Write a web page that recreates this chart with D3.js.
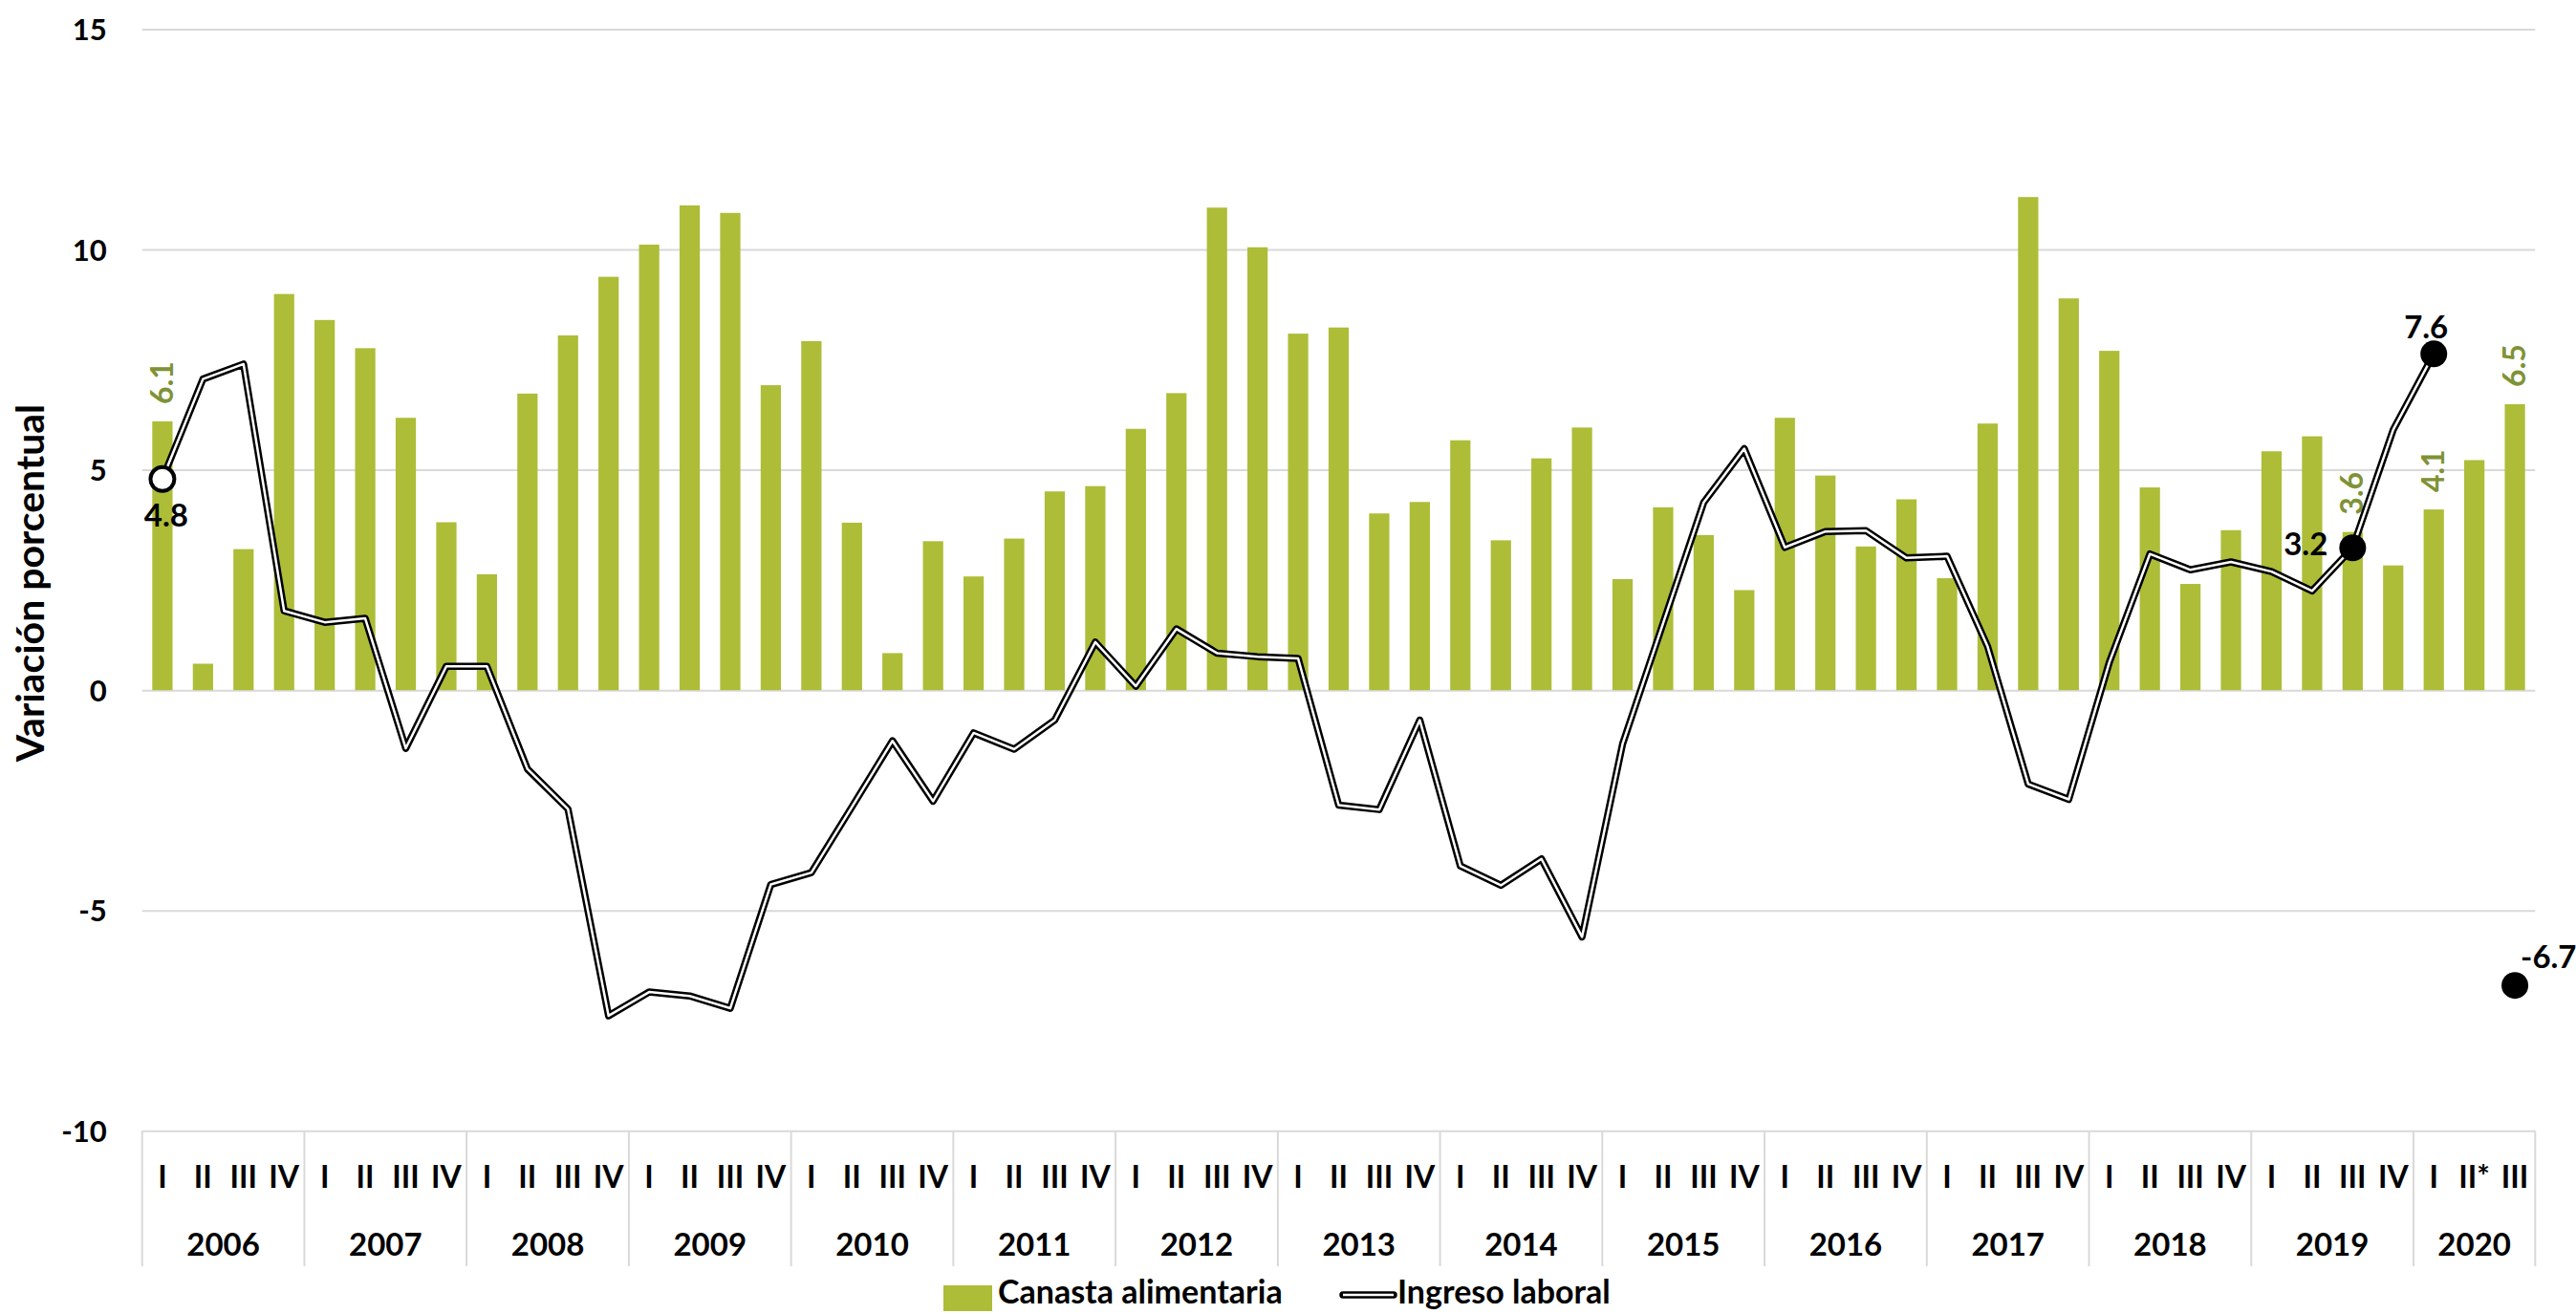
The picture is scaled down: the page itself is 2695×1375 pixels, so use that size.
<!DOCTYPE html>
<html>
<head>
<meta charset="utf-8">
<script src="https://cdn.jsdelivr.net/npm/d3@7"></script>
<style>
html, body { margin: 0; padding: 0; background: #ffffff; }
svg { display: block; font-family: Lato, "Open Sans", sans-serif; }
</style>
</head>
<body>
<svg id="chart" width="2695" height="1375"></svg>
<script>
// ---------- DATA ----------
const years = ["2006","2007","2008","2009","2010","2011","2012","2013","2014","2015","2016","2017","2018","2019","2020"];
const quarterNames = ["I","II","III","IV"];
const lastYearQuarters = ["I","II*","III"];
const yTicks = [-10, -5, 0, 5, 10, 15];

// Canasta alimentaria (bars), one value per quarter 2006-I .. 2020-III
const canasta = [
  6.10, 0.60, 3.20, 8.99,
  8.40, 7.76, 6.18, 3.81,
  2.63, 6.73, 8.05, 9.38,
  10.11, 11.00, 10.83, 6.92,
  7.92, 3.80, 0.84, 3.38,
  2.58, 3.44, 4.51, 4.63,
  5.93, 6.74, 10.95, 10.05,
  8.09, 8.23, 4.01, 4.27,
  5.67, 3.40, 5.26, 5.96,
  2.52, 4.15, 3.52, 2.27,
  6.18, 4.87, 3.26, 4.33,
  2.54, 6.05, 11.19, 8.89,
  7.70, 4.60, 2.41, 3.63,
  5.42, 5.76, 3.59, 2.83,
  4.10, 5.22, 6.49
];

// Ingreso laboral (line)
const ingreso = [
  4.79, 7.06, 7.40, 1.80,
  1.54, 1.63, -1.32, 0.54,
  0.54, -1.79, -2.70, -7.39,
  -6.85, -6.94, -7.22, -4.41,
  -4.14, -2.65, -1.15, -2.52,
  -0.97, -1.34, -0.68, 1.09,
  0.09, 1.39, 0.84, 0.76,
  0.72, -2.61, -2.71, -0.68,
  -3.99, -4.43, -3.83, -5.60,
  -1.22, 1.52, 4.26, 5.48,
  3.24, 3.60, 3.62, 3.00,
  3.04, 0.99, -2.13, -2.48,
  0.63, 3.09, 2.73, 2.91,
  2.69, 2.25, 3.23, 5.91,
  7.63, null, -6.70
];

const labeledBars = [0, 54, 56, 58];
const markedPoints = [0, 54, 56, 58];

const seriesNames = ["Canasta alimentaria", "Ingreso laboral"];
const yTitle = "Variación porcentual";

// ---------- BUILD ----------
const categories = [];
years.forEach(yr => {
  const qs = yr === years[years.length - 1] ? lastYearQuarters : quarterNames;
  qs.forEach(q => categories.push({ year: yr, q: q }));
});

const W = 2695, H = 1375;
const plotL = 148.7, plotR = 2652.3, plotT = 30.5, plotB = 1183.3;
const FONT = "Lato, 'Open Sans', sans-serif";
const barColor = "#adbd38";
const barLabelColor = "#7f9236";
const gridColor = "#d9d9d9";

const svg = d3.select("#chart");
svg.append("rect").attr("width", W).attr("height", H).attr("fill", "#fff");

const x = d3.scaleBand()
  .domain(d3.range(categories.length))
  .range([plotL, plotR])
  .paddingInner(0.5)
  .paddingOuter(0.25);
const bw = x.bandwidth();
const step = x.step();
const cx = i => x(i) + bw / 2;

const y = d3.scaleLinear().domain([-10, 15]).range([plotB, plotT]);

// Y axis with gridlines
svg.append("g")
  .attr("transform", `translate(${plotL},0)`)
  .call(d3.axisLeft(y).tickValues(yTicks).tickSize(-(plotR - plotL)).tickPadding(37).tickFormat(d => String(d)))
  .call(g => g.select(".domain").remove())
  .call(g => g.selectAll(".tick line").attr("stroke", gridColor).attr("stroke-width", 2))
  .call(g => g.selectAll(".tick text")
    .attr("font-family", FONT).attr("font-size", 31).attr("font-weight", "bold")
    .attr("fill", "#000").attr("dy", "0.36em"));

// Bars
svg.append("g").selectAll("rect")
  .data(canasta)
  .join("rect")
  .attr("x", (d, i) => x(i))
  .attr("width", bw)
  .attr("y", d => y(Math.max(0, d)))
  .attr("height", d => Math.abs(y(d) - y(0)))
  .attr("fill", barColor);

// Bar labels (rotated)
svg.append("g").selectAll("text")
  .data(labeledBars)
  .join("text")
  .attr("transform", i => `translate(${cx(i) + 11},${y(canasta[i]) - 18}) rotate(-90)`)
  .attr("text-anchor", "start")
  .attr("font-family", FONT)
  .attr("font-size", 32)
  .attr("font-weight", "bold")
  .attr("fill", barLabelColor)
  .text(i => d3.format(".1f")(canasta[i]));

// Line (double: black outer, white inner)
const line = d3.line()
  .defined(d => d != null)
  .x((d, i) => cx(i))
  .y(d => y(d));

svg.append("path")
  .datum(ingreso)
  .attr("d", line)
  .attr("fill", "none")
  .attr("stroke", "#000")
  .attr("stroke-width", 7.5)
  .attr("stroke-linejoin", "round");
svg.append("path")
  .datum(ingreso)
  .attr("d", line)
  .attr("fill", "none")
  .attr("stroke", "#fff")
  .attr("stroke-width", 2.5)
  .attr("stroke-linejoin", "round");

// Markers
svg.append("g").selectAll("circle")
  .data(markedPoints)
  .join("circle")
  .attr("cx", i => cx(i))
  .attr("cy", i => y(ingreso[i]))
  .attr("r", i => i === 0 ? 12.5 : 14)
  .attr("fill", i => i === 0 ? "#fff" : "#000")
  .attr("stroke", "#000")
  .attr("stroke-width", i => i === 0 ? 4 : 0);

// Line point labels
const labelPlacement = {
  0:  { dx: 4,  dy: 50,  anchor: "middle" },
  54: { dx: -26, dy: 8,  anchor: "end" },
  56: { dx: -8, dy: -16, anchor: "middle" },
  58: { dx: 6,  dy: -18, anchor: "start" }
};
svg.append("g").selectAll("text")
  .data(markedPoints)
  .join("text")
  .attr("x", i => cx(i) + labelPlacement[i].dx)
  .attr("y", i => y(ingreso[i]) + labelPlacement[i].dy)
  .attr("text-anchor", i => labelPlacement[i].anchor)
  .attr("font-family", FONT)
  .attr("font-size", 33)
  .attr("font-weight", "bold")
  .attr("fill", "#000")
  .text(i => d3.format(".1f")(ingreso[i]).replace("\u2212", "-"));

// X axis: quarter labels
svg.append("g")
  .attr("transform", `translate(0,${plotB})`)
  .call(d3.axisBottom(x).tickSize(0).tickFormat(i => categories[i].q))
  .call(g => g.select(".domain").remove())
  .call(g => g.selectAll(".tick text")
    .attr("font-family", FONT).attr("font-size", 32).attr("font-weight", "bold")
    .attr("fill", "#000").attr("y", 60).attr("dy", 0));

// Year groups
const yearInfo = years.map(yr => {
  const idx = categories.map((c, i) => c.year === yr ? i : -1).filter(i => i >= 0);
  const x0 = x(idx[0]) - step * x.paddingOuter();
  const x1 = x(idx[idx.length - 1]) + bw + step * x.paddingOuter();
  return { yr, x0, x1 };
});
const sepG = svg.append("g");
const seps = yearInfo.map(d => d.x0).concat([yearInfo[yearInfo.length - 1].x1]);
sepG.selectAll("line")
  .data(seps)
  .join("line")
  .attr("x1", d => d).attr("x2", d => d)
  .attr("y1", plotB).attr("y2", 1325)
  .attr("stroke", gridColor).attr("stroke-width", 2);

svg.append("g").selectAll("text")
  .data(yearInfo)
  .join("text")
  .attr("x", d => (d.x0 + d.x1) / 2)
  .attr("y", 1314)
  .attr("text-anchor", "middle")
  .attr("font-family", FONT)
  .attr("font-size", 33)
  .attr("font-weight", "bold")
  .attr("fill", "#000")
  .text(d => d.yr);

// Y axis title
svg.append("text")
  .attr("transform", `translate(46,610) rotate(-90)`)
  .attr("text-anchor", "middle")
  .attr("font-family", FONT)
  .attr("font-size", 41)
  .attr("font-weight", "bold")
  .attr("fill", "#000")
  .text(yTitle);

// Legend
const lg = svg.append("g");
lg.append("rect").attr("x", 987).attr("y", 1345).attr("width", 51).attr("height", 27).attr("fill", barColor);
lg.append("text").attr("x", 1044).attr("y", 1364)
  .attr("font-family", FONT).attr("font-size", 34).attr("font-weight", "bold").attr("fill", "#000")
  .text(seriesNames[0]);
lg.append("line").attr("x1", 1405).attr("x2", 1458).attr("y1", 1355).attr("y2", 1355)
  .attr("stroke", "#000").attr("stroke-width", 7.5).attr("stroke-linecap", "round");
lg.append("line").attr("x1", 1405).attr("x2", 1458).attr("y1", 1355).attr("y2", 1355)
  .attr("stroke", "#fff").attr("stroke-width", 2.5);
lg.append("text").attr("x", 1462).attr("y", 1364)
  .attr("font-family", FONT).attr("font-size", 34).attr("font-weight", "bold").attr("fill", "#000")
  .text(seriesNames[1]);
</script>
</body>
</html>
